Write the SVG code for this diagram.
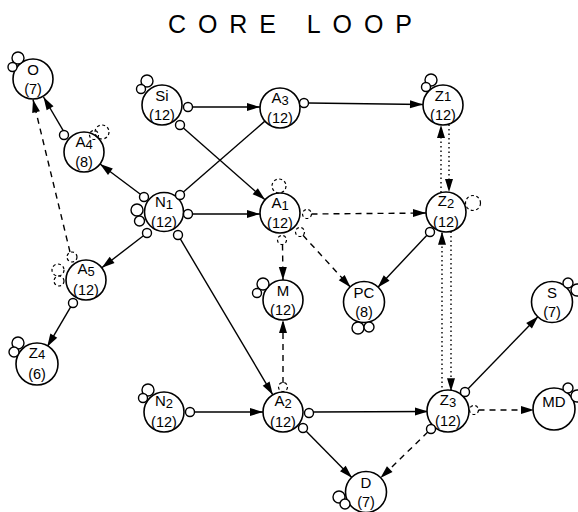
<svg xmlns="http://www.w3.org/2000/svg" width="578" height="512" viewBox="0 0 578 512">
<style>
.node{fill:#fff;stroke:#000;stroke-width:1.6}
.port{fill:#fff;stroke:#000;stroke-width:1.4}
.dport{fill:none;stroke:#000;stroke-width:1.2;stroke-dasharray:3,2.5}
.e{stroke:#000;stroke-width:1.4;fill:none}
.d{stroke-dasharray:6,5}
.o{stroke-dasharray:1.5,3}
text{font-family:"Liberation Sans",Arial,sans-serif;font-size:15px;text-anchor:middle;fill:#000}
.n{font-size:14.5px}
.s{font-size:13px}
.t{font-size:25px;text-anchor:start;font-family:"Liberation Sans",Arial,sans-serif}
</style>
<defs>
<marker id="ah" markerUnits="userSpaceOnUse" markerWidth="14" markerHeight="8" refX="13" refY="4" orient="auto" overflow="visible">
<path d="M0,0 L13,4 L0,8 z" fill="#000"/>
</marker>
</defs>
<text class="t" x="168" y="33" textLength="244" lengthAdjust="spacing">CORE LOOP</text>

<g id="connectors">
<line class="e" x1="192.5" y1="107" x2="260" y2="107" marker-end="url(#ah)"/>
<line class="e" x1="183.4" y1="128" x2="265" y2="199.8" marker-end="url(#ah)"/>
<line class="e" x1="308.5" y1="103" x2="423" y2="104.5" marker-end="url(#ah)"/>
<line class="e" x1="183.4" y1="192" x2="264.9" y2="121.1"/>
<line class="e" x1="192.5" y1="214" x2="260" y2="214" marker-end="url(#ah)"/>
<line class="e" x1="140.4" y1="194.3" x2="100" y2="164" marker-end="url(#ah)"/>
<line class="e" x1="143.4" y1="235.7" x2="101.8" y2="267.8" marker-end="url(#ah)"/>
<line class="e" x1="180.3" y1="238.9" x2="272.8" y2="394.8" marker-end="url(#ah)"/>
<line class="e" x1="64.7" y1="133.1" x2="43.5" y2="97" marker-end="url(#ah)"/>
<line class="e d" x1="70" y1="252" x2="33" y2="99.5" marker-end="url(#ah)"/>
<line class="e" x1="70.7" y1="306.9" x2="47.2" y2="346.8" marker-end="url(#ah)"/>
<line class="e d" x1="311.5" y1="214" x2="426" y2="213" marker-end="url(#ah)"/>
<line class="e d" x1="282.5" y1="244.5" x2="283" y2="280" marker-end="url(#ah)"/>
<line class="e d" x1="303" y1="235.3" x2="350.5" y2="287.2" marker-end="url(#ah)"/>
<line class="e o" x1="449" y1="124.5" x2="449" y2="192" marker-end="url(#ah)"/>
<line class="e o" x1="441" y1="192.6" x2="441" y2="125" marker-end="url(#ah)"/>
<line class="e" x1="426.9" y1="235.3" x2="377.7" y2="287.4" marker-end="url(#ah)"/>
<line class="e o" x1="442" y1="392" x2="442" y2="231.8" marker-end="url(#ah)"/>
<line class="e o" x1="451" y1="231.5" x2="451" y2="391.2" marker-end="url(#ah)"/>
<line class="e" x1="313.5" y1="412" x2="428" y2="411.5" marker-end="url(#ah)"/>
<line class="e" x1="306.2" y1="431.2" x2="352" y2="477.7" marker-end="url(#ah)"/>
<line class="e d" x1="283" y1="383" x2="283" y2="320" marker-end="url(#ah)"/>
<line class="e" x1="194.5" y1="412" x2="263" y2="412" marker-end="url(#ah)"/>
<line class="e" x1="468.1" y1="388.8" x2="538.1" y2="316.4" marker-end="url(#ah)"/>
<line class="e d" x1="478.5" y1="410" x2="534" y2="410" marker-end="url(#ah)"/>
<line class="e d" x1="427.8" y1="432.1" x2="380.4" y2="478.1" marker-end="url(#ah)"/>
</g>

<g id="O">
<circle class="node" cx="33" cy="79" r="20"/>
<circle class="port" cx="18" cy="58" r="6"/>
<circle class="port" cx="12.5" cy="67" r="4.5"/>
<text x="33" y="75">O</text><text class="n" x="33" y="93.5">(7)</text>
</g>
<g id="A4">
<circle class="node" cx="84" cy="152" r="20"/>
<circle class="port" cx="64" cy="135" r="4.5"/>
<circle class="dport" cx="102" cy="132" r="7"/>
<circle class="dport" cx="94" cy="135" r="4.5"/>
<text x="84" y="147">A<tspan class="s" dy="2">4</tspan></text><text class="n" x="84" y="166.5">(8)</text>
</g>
<g id="Si">
<circle class="node" cx="162" cy="105" r="20"/>
<circle class="port" cx="147" cy="81" r="6"/>
<circle class="port" cx="141" cy="89" r="4.5"/>
<circle class="port" cx="188" cy="107" r="4.5"/>
<circle class="port" cx="180" cy="125" r="4.5"/>
<text x="162" y="101">Si</text><text class="n" x="162" y="119.5">(12)</text>
</g>
<g id="A3">
<circle class="node" cx="280" cy="108" r="20"/>
<circle class="port" cx="304" cy="103" r="4.5"/>
<text x="280" y="103">A<tspan class="s" dy="2">3</tspan></text><text class="n" x="280" y="122.5">(12)</text>
</g>
<g id="Z1">
<circle class="node" cx="443" cy="105" r="20"/>
<circle class="port" cx="431" cy="80" r="6"/>
<circle class="port" cx="426" cy="87" r="4.5"/>
<text x="443" y="101">Z<tspan class="s">1</tspan></text><text class="n" x="443" y="119.5">(12)</text>
</g>
<g id="N1">
<circle class="node" cx="164" cy="212" r="19.5"/>
<circle class="port" cx="144" cy="197" r="4.5"/>
<circle class="port" cx="180" cy="195" r="4.5"/>
<circle class="port" cx="188" cy="214" r="4.5"/>
<circle class="port" cx="147" cy="233" r="4.5"/>
<circle class="port" cx="178" cy="235" r="4.5"/>
<circle class="port" cx="137" cy="210" r="6"/>
<circle class="port" cx="139.5" cy="221" r="5"/>
<text x="164" y="207">N<tspan class="s" dy="2">1</tspan></text><text class="n" x="164" y="226.5">(12)</text>
</g>
<g id="A1">
<circle class="node" cx="280" cy="213" r="20"/>
<circle class="dport" cx="279" cy="186" r="7"/>
<circle class="dport" cx="307" cy="214" r="4.5"/>
<circle class="dport" cx="282" cy="240" r="4.5"/>
<circle class="dport" cx="300" cy="232" r="4.5"/>
<text x="280" y="208">A<tspan class="s" dy="2">1</tspan></text><text class="n" x="280" y="227.5">(12)</text>
</g>
<g id="Z2">
<circle class="node" cx="446" cy="212" r="20"/>
<circle class="dport" cx="473" cy="203" r="7.5"/>
<circle class="port" cx="430" cy="232" r="4.5"/>
<text x="446" y="206">Z<tspan class="s" dy="2">2</tspan></text><text class="n" x="446" y="226.5">(12)</text>
</g>
<g id="A5">
<circle class="node" cx="86" cy="280" r="20"/>
<circle class="dport" cx="72" cy="257" r="5"/>
<circle class="dport" cx="58" cy="270" r="6"/>
<circle class="dport" cx="59" cy="281" r="5"/>
<circle class="port" cx="73" cy="303" r="4.5"/>
<text x="86" y="274">A<tspan class="s" dy="2">5</tspan></text><text class="n" x="86" y="294.5">(12)</text>
</g>
<g id="Z4">
<circle class="node" cx="37" cy="364" r="21"/>
<circle class="port" cx="18" cy="343" r="6"/>
<circle class="port" cx="14" cy="352" r="5"/>
<text x="37" y="358">Z<tspan class="s" dy="1">4</tspan></text><text class="n" x="37" y="378.5">(6)</text>
</g>
<g id="M">
<circle class="node" cx="283" cy="300" r="20"/>
<circle class="port" cx="263" cy="284" r="6"/>
<circle class="port" cx="257" cy="293" r="4.5"/>
<text x="283" y="296">M</text><text class="n" x="283" y="314.5">(12)</text>
</g>
<g id="PC">
<circle class="node" cx="364" cy="302" r="20.5"/>
<circle class="port" cx="358" cy="328" r="6"/>
<circle class="port" cx="369" cy="327" r="5"/>
<text x="364" y="298">PC</text><text class="n" x="364" y="316.5">(8)</text>
</g>
<g id="S">
<circle class="node" cx="552" cy="302" r="20.5"/>
<circle class="port" cx="577" cy="290" r="6"/>
<circle class="port" cx="568" cy="283" r="5"/>
<text x="552" y="298">S</text><text class="n" x="552" y="316.5">(7)</text>
</g>
<g id="N2">
<circle class="node" cx="164" cy="412" r="20"/>
<circle class="port" cx="148" cy="390" r="6"/>
<circle class="port" cx="143" cy="398" r="4.5"/>
<circle class="port" cx="190" cy="412" r="4.5"/>
<text x="164" y="406">N<tspan class="s" dy="2">2</tspan></text><text class="n" x="164" y="426.5">(12)</text>
</g>
<g id="A2">
<circle class="node" cx="283" cy="412" r="20"/>
<circle class="dport" cx="283" cy="387" r="4.5"/>
<circle class="port" cx="309" cy="413" r="4.5"/>
<circle class="port" cx="303" cy="428" r="4.5"/>
<text x="283" y="406">A<tspan class="s" dy="2">2</tspan></text><text class="n" x="283" y="426.5">(12)</text>
</g>
<g id="Z3">
<circle class="node" cx="448" cy="411" r="21"/>
<circle class="port" cx="465" cy="392" r="4.5"/>
<circle class="dport" cx="474" cy="410" r="4.5"/>
<circle class="port" cx="431" cy="429" r="4.5"/>
<text x="448" y="405">Z<tspan class="s" dy="2">3</tspan></text><text class="n" x="448" y="425.5">(12)</text>
</g>
<g id="MD">
<circle class="node" cx="554" cy="409" r="21"/>
<circle class="port" cx="577" cy="396" r="6"/>
<circle class="port" cx="568" cy="388" r="5"/>
<text x="554" y="407">MD</text>
</g>
<g id="D">
<circle class="node" cx="366" cy="492" r="20.5"/>
<circle class="port" cx="339" cy="497" r="6"/>
<circle class="port" cx="345" cy="504" r="5"/>
<text x="366" y="488">D</text><text class="n" x="366" y="506.5">(7)</text>
</g>
</svg>
